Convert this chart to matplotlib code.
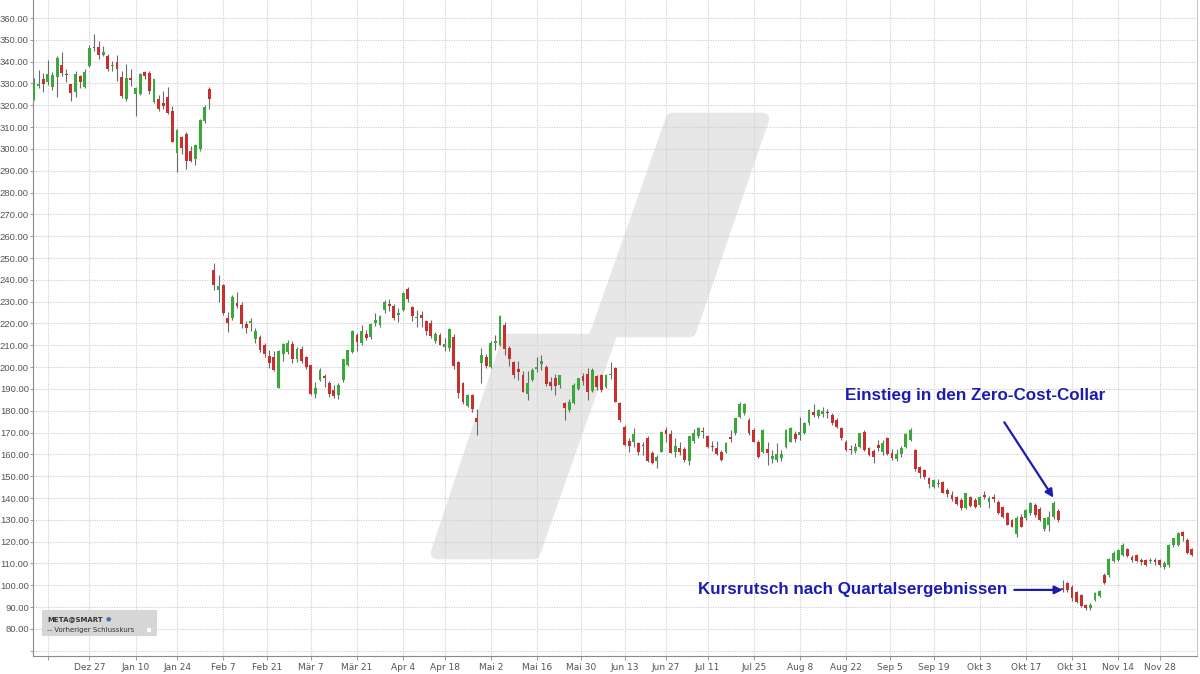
import numpy as np
import pandas as pd
import matplotlib.pyplot as plt
from matplotlib.patches import Polygon, Rectangle

# trading days shown (US market holidays left out)
holidays = ['2021-12-24', '2022-01-17', '2022-02-21', '2022-04-15', '2022-05-30',
            '2022-06-20', '2022-07-04', '2022-09-05', '2022-11-24']
days = pd.bdate_range('2021-12-08', '2022-12-07')
days = days[~days.isin(pd.to_datetime(holidays))]

# daily OHLC, one line per week
opens = [
    323.0, 329.0, 332.2, 330.5, 328.6, 333.0, 338.6, 334.5, 329.7, 326.2, 333.2, 328.6,
    338.1, 346.6, 346.5, 343.0, 342.7,
    338.0, 340.0, 332.8, 322.8, 332.3,
    325.1, 325.1, 335.4, 334.8, 321.3,
    323.0, 321.0, 324.0, 317.5,
    298.1, 305.3, 306.8, 299.1, 295.3,
    300.0, 313.0, 327.4, 244.5, 235.5,
    237.6, 222.5, 222.4, 229.5, 228.5,
    219.8, 220.0, 213.0, 214.0, 210.1,
    205.0, 204.5, 190.6, 206.0,
    207.0, 210.5, 203.5, 208.5, 204.8,
    200.8, 187.5, 194.0, 196.0, 192.6,
    189.5, 187.0, 194.0, 201.0, 207.0,
    214.5, 211.0, 215.0, 214.0, 220.0,
    219.5, 226.0, 229.0, 228.0, 224.0,
    226.0, 235.8, 227.5, 222.5, 224.0,
    221.0, 220.0, 212.0, 214.5,
    209.0, 208.6, 214.0, 202.5, 192.6,
    182.0, 187.2, 176.5, 202.0, 204.8,
    200.2, 211.0, 210.1, 219.5, 208.6,
    202.5, 199.0, 196.4, 187.5, 194.1,
    199.0, 201.5, 200.2, 193.0, 195.0,
    192.0, 183.5, 180.5, 183.5, 190.0,
    196.0, 197.0, 189.0, 196.0,
    196.4, 191.0, 196.5, 199.4, 183.4,
    172.5, 166.0, 165.5, 165.1, 164.5,
    167.4, 160.5, 157.0, 161.3,
    171.2, 169.5, 161.0, 163.0, 162.5,
    157.0, 166.0, 168.5, 170.7,
    168.5, 164.0, 163.0, 161.3, 161.3,
    168.0, 169.7, 177.3, 178.8, 175.8,
    171.2, 165.9, 161.3, 162.5, 158.0,
    157.5, 158.5, 163.5, 165.9, 169.5,
    169.0, 170.0, 174.2, 179.6, 177.5,
    178.5, 179.5, 178.1, 175.8, 171.9,
    165.9, 162.0, 161.5, 163.5, 170.4,
    162.8, 161.5, 164.5, 161.0, 167.5,
    160.5, 157.8, 160.0, 163.5,
    166.6, 162.0, 154.0, 152.9, 149.0,
    145.2, 146.5, 147.5, 143.7, 141.5,
    140.6, 139.0, 135.3, 140.6, 139.0,
    136.8, 141.5, 138.0, 140.5, 138.3,
    136.0, 133.0, 129.9, 123.5, 131.5,
    130.7, 133.0, 136.8, 134.8, 126.0,
    127.5, 131.5, 134.0, 98.6, 100.9,
    99.4, 97.1, 95.6, 91.0, 89.5,
    93.3, 95.0, 104.8, 104.8, 111.0,
    111.6, 113.9, 116.5, 113.0, 114.0,
    111.5, 111.5, 111.0, 111.5,
    111.6, 108.5, 109.3, 118.5, 118.5,
    124.5, 120.8, 116.5,
]
highs = [
    332.3, 336.0, 334.8, 340.7, 335.4, 342.4, 344.3, 336.6, 329.9, 335.8, 333.9, 336.6,
    347.5, 352.7, 349.6, 347.3, 343.5,
    340.4, 343.2, 335.8, 339.0, 336.6,
    328.5, 334.6, 335.9, 335.6, 332.2,
    324.5, 326.7, 328.2, 319.8,
    309.1, 306.0, 307.6, 301.4, 302.1,
    313.8, 319.9, 328.2, 247.6, 242.2,
    238.0, 225.4, 233.0, 234.6, 229.9,
    221.0, 222.4, 218.0, 214.5, 211.0,
    207.9, 207.5, 208.0, 211.0,
    212.4, 212.0, 209.0, 209.5, 205.0,
    201.0, 193.0, 199.5, 197.0, 193.5,
    191.8, 192.5, 203.8, 208.0, 217.0,
    215.5, 219.3, 217.0, 220.0, 224.7,
    224.0, 230.7, 231.0, 229.0, 227.0,
    234.5, 236.9, 228.0, 226.2, 225.5,
    221.5, 221.6, 216.3, 215.5,
    213.5, 218.0, 215.0, 203.0, 193.0,
    187.5, 187.5, 181.0, 208.6, 206.0,
    212.0, 214.7, 224.0, 220.5, 209.5,
    203.0, 203.0, 198.0, 198.0, 199.7,
    204.8, 205.6, 201.0, 195.6, 197.0,
    196.5, 184.0, 185.5, 192.6, 195.2,
    197.2, 199.4, 199.5, 196.5,
    197.0, 196.8, 202.5, 200.0, 184.0,
    173.5, 167.4, 171.9, 165.5, 165.5,
    168.5, 161.5, 159.7, 170.5,
    172.5, 171.2, 167.4, 165.5, 163.5,
    168.5, 171.5, 172.5, 172.7,
    169.0, 166.0, 166.0, 161.8, 165.5,
    171.2, 176.8, 183.8, 183.5, 176.5,
    172.0, 166.5, 171.5, 165.9, 162.0,
    165.1, 162.0, 171.5, 172.5, 170.5,
    177.3, 175.0, 181.0, 183.0, 181.0,
    181.5, 181.0, 179.0, 176.5, 172.5,
    166.5, 164.5, 165.0, 170.0, 171.0,
    163.5, 162.5, 166.5, 166.8, 168.0,
    162.5, 162.5, 164.0, 170.0,
    172.0, 162.5, 154.5, 153.5, 149.5,
    148.5, 148.5, 148.0, 144.5, 143.0,
    141.0, 140.0, 142.5, 141.0, 140.0,
    141.0, 143.0, 141.0, 142.0, 139.0,
    136.5, 133.5, 130.5, 131.8, 132.5,
    135.0, 138.0, 137.5, 136.0, 131.0,
    134.0, 138.5, 135.0, 102.4, 101.5,
    100.0, 97.5, 96.0, 91.5, 91.8,
    97.1, 98.0, 105.5, 112.5, 115.5,
    116.8, 119.5, 117.0, 114.0, 114.5,
    112.5, 112.0, 112.5, 112.5,
    112.0, 111.0, 118.8, 121.8, 124.5,
    125.0, 121.5, 117.0,
]
lows = [
    322.5, 328.0, 325.9, 329.3, 327.1, 323.6, 333.2, 330.5, 322.0, 323.6, 327.9, 328.1,
    337.4, 345.0, 341.2, 342.7, 335.8,
    335.8, 331.0, 323.3, 322.0, 328.7,
    315.2, 324.5, 332.0, 325.1, 321.0,
    317.3, 318.3, 315.9, 303.0,
    289.2, 297.6, 290.7, 293.8, 292.7,
    299.1, 311.8, 318.3, 235.3, 230.0,
    224.0, 216.3, 221.6, 227.0, 218.0,
    215.8, 216.5, 211.0, 206.8, 204.8,
    199.4, 198.0, 190.2, 203.0,
    206.0, 202.0, 202.5, 201.8, 199.2,
    187.0, 185.7, 193.5, 191.0, 186.5,
    185.7, 185.5, 193.0, 200.5, 206.5,
    207.5, 210.0, 212.4, 213.0, 219.0,
    218.5, 225.0, 225.5, 221.8, 220.5,
    225.5, 230.0, 221.0, 218.5, 218.5,
    214.5, 213.2, 210.9, 210.1,
    207.5, 207.5, 199.0, 185.7, 183.0,
    181.5, 179.6, 169.0, 192.6, 199.5,
    199.5, 207.8, 209.5, 205.5, 200.5,
    195.0, 194.0, 188.5, 185.0, 193.5,
    197.9, 198.7, 191.5, 189.5, 187.0,
    190.5, 175.8, 179.5, 183.0, 189.5,
    192.0, 184.9, 188.5, 189.5,
    188.5, 190.5, 194.5, 183.8, 175.0,
    164.0, 161.3, 163.5, 159.5, 159.5,
    156.5, 155.5, 153.6, 161.0,
    165.5, 160.5, 158.9, 159.5, 156.7,
    155.0, 165.0, 167.5, 167.4,
    163.0, 161.5, 159.5, 157.0, 160.5,
    165.9, 169.0, 176.5, 178.0, 169.0,
    165.5, 158.5, 160.5, 155.1, 155.9,
    156.7, 157.0, 163.0, 165.5, 165.9,
    166.6, 169.5, 173.5, 177.0, 176.5,
    177.0, 176.5, 173.5, 172.0, 166.8,
    161.5, 160.0, 160.5, 163.0, 161.5,
    159.2, 156.0, 161.5, 159.8, 159.5,
    157.5, 157.0, 159.0, 163.0,
    166.0, 152.5, 149.0, 148.5, 144.4,
    144.5, 145.0, 142.2, 140.6, 138.5,
    136.8, 134.5, 135.0, 136.0, 135.3,
    136.0, 139.5, 135.5, 138.0, 132.5,
    131.0, 127.5, 126.5, 122.3, 126.5,
    130.0, 132.0, 131.5, 129.5, 124.8,
    124.8, 130.5, 129.0, 97.1, 97.0,
    93.0, 92.0, 90.0, 88.5, 88.7,
    93.0, 94.5, 100.5, 104.0, 110.5,
    111.0, 113.5, 113.0, 110.5, 110.5,
    109.5, 109.0, 110.0, 109.5,
    108.5, 107.5, 108.5, 117.5, 118.0,
    120.5, 114.5, 113.5,
]
closes = [
    330.1, 329.8, 329.7, 334.4, 333.7, 341.7, 334.9, 333.8, 325.5, 334.2, 330.5, 335.2,
    346.2, 346.2, 342.9, 344.4, 336.4,
    338.5, 336.5, 324.2, 332.5, 331.8,
    328.1, 334.4, 333.3, 326.5, 331.9,
    318.2, 319.6, 316.6, 303.2,
    308.7, 300.2, 294.6, 294.6, 301.7,
    313.3, 319.0, 323.0, 237.8, 237.1,
    224.9, 220.2, 232.0, 228.1, 219.6,
    217.7, 221.0, 216.5, 207.7, 206.2,
    202.1, 198.5, 207.6, 210.5,
    211.0, 203.5, 208.1, 203.0, 200.1,
    187.5, 190.3, 198.5, 195.2, 187.6,
    186.6, 192.0, 203.6, 207.8, 216.5,
    211.5, 216.7, 213.5, 219.6, 221.8,
    223.6, 229.9, 227.9, 222.4, 224.9,
    233.9, 231.3, 223.3, 223.0, 222.3,
    216.5, 214.1, 215.0, 210.2,
    210.8, 217.3, 200.4, 188.1, 184.1,
    187.0, 181.0, 175.0, 205.7, 200.5,
    211.1, 212.0, 223.4, 208.3, 203.8,
    196.2, 197.7, 188.7, 192.5, 198.6,
    200.0, 202.6, 192.2, 191.3, 191.5,
    196.2, 181.3, 183.8, 191.6, 195.1,
    193.6, 188.6, 198.9, 190.8,
    189.5, 196.4, 196.6, 184.2, 175.6,
    164.3, 163.7, 169.4, 160.9, 163.7,
    157.1, 155.9, 158.7, 170.2,
    169.5, 160.7, 163.9, 161.3, 157.5,
    168.2, 169.8, 172.2, 170.3,
    163.5, 163.3, 160.0, 157.4, 165.1,
    167.2, 176.5, 183.1, 183.2, 169.7,
    165.9, 158.9, 171.2, 160.5, 159.1,
    160.0, 160.2, 171.2, 171.9, 167.1,
    170.3, 174.2, 180.4, 178.1, 180.2,
    180.0, 179.0, 174.2, 172.7, 167.4,
    162.0, 161.9, 163.2, 169.7, 162.0,
    159.7, 159.0, 162.9, 165.4, 160.3,
    158.5, 160.4, 163.1, 169.2,
    171.2, 153.1, 151.5, 149.5, 146.3,
    148.3, 147.0, 142.5, 142.0, 139.5,
    137.2, 135.5, 142.2, 136.4, 135.7,
    140.6, 140.4, 140.0, 139.5, 133.0,
    131.5, 127.7, 126.9, 131.0, 126.9,
    134.5, 137.6, 132.2, 130.0, 130.7,
    131.5, 137.6, 129.8, 97.9, 97.9,
    94.1, 92.5, 90.3, 89.5, 91.0,
    96.7, 97.5, 101.0, 112.0, 115.0,
    116.2, 118.5, 113.5, 111.5, 111.0,
    110.5, 109.3, 111.8, 110.5,
    109.3, 110.3, 118.5, 121.5, 123.9,
    122.5, 114.7, 113.8,
]

tick_dates = ['2021-12-13', '2021-12-27', '2022-01-10', '2022-01-24', '2022-02-07',
              '2022-02-21', '2022-03-07', '2022-03-21', '2022-04-04', '2022-04-18',
              '2022-05-02', '2022-05-16', '2022-05-30', '2022-06-13', '2022-06-27',
              '2022-07-11', '2022-07-25', '2022-08-08', '2022-08-22', '2022-09-05',
              '2022-09-19', '2022-10-03', '2022-10-17', '2022-10-31', '2022-11-14',
              '2022-11-28']
tick_labels = ['', 'Dez 27', 'Jan 10', 'Jan 24', 'Feb 7', 'Feb 21', 'Mär 7', 'Mär 21',
               'Apr 4', 'Apr 18', 'Mai 2', 'Mai 16', 'Mai 30', 'Jun 13', 'Jun 27',
               'Jul 11', 'Jul 25', 'Aug 8', 'Aug 22', 'Sep 5', 'Sep 19', 'Okt 3',
               'Okt 17', 'Okt 31', 'Nov 14', 'Nov 28']
y_ticks = list(range(70, 361, 10))

n = len(days)
assert len(opens) == len(highs) == len(lows) == len(closes) == n

o = np.array(opens)
h = np.array(highs)
l = np.array(lows)
c = np.array(closes)
x = np.arange(n)

fig = plt.figure(figsize=(12, 6.74), dpi=100)
ax = fig.add_axes([33 / 1200, 18 / 674, 1164 / 1200, 656 / 674])


def fig_xy(px, py):
    return (px / 1200, 1 - py / 674)


# grey watermark shape behind the chart
mark = [(437, 553), (508, 340), (594, 340), (672, 119), (763, 119), (690, 331),
        (612, 331), (534, 553)]
ax.add_patch(Polygon([fig_xy(*p) for p in mark], closed=True, transform=fig.transFigure,
                     facecolor='#e7e7e7', edgecolor='#e7e7e7', lw=9, joinstyle='round',
                     zorder=0.2))

# candles
up = c >= o
colors = np.where(up, '#3aa83a', '#c83030')
ax.vlines(x, l, h, color='#6a6a6a', lw=0.8, zorder=2)
body = np.maximum(np.abs(c - o), 0.4)
ax.bar(x, body, bottom=np.minimum(o, c), width=0.62, color=colors, linewidth=0, zorder=3)


def day_pos(d):
    d = pd.Timestamp(d)
    i = days.searchsorted(d)
    return i if days[i] == d else i - 0.5


ax.set_xticks([day_pos(d) for d in tick_dates])
ax.set_xticklabels(tick_labels, fontsize=6.5)
ax.set_yticks(y_ticks)
ax.set_yticklabels(['' if v == 70 else f'{v:.2f}' for v in y_ticks],
                   fontsize=6.8, family='Liberation Sans')
ax.set_xlim(-0.22, 252.1)
ax.set_ylim(67.6, 368.25)

ax.set_axisbelow(True)
ax.grid(True, color='#cdcdcd', ls=(0, (1, 1.2)), lw=0.8)
ax.tick_params(axis='x', length=3, width=0.6, color='#8a8a8a', labelcolor='#555555', pad=2)
ax.tick_params(axis='y', length=2, width=0.6, color='#8a8a8a', labelcolor='#555555', pad=1)
for s in ['left', 'bottom']:
    ax.spines[s].set_color('#8a8a8a')
    ax.spines[s].set_linewidth(0.8)
ax.spines['right'].set_color('#c8c8c8')
ax.spines['top'].set_visible(False)

# annotations
blue = '#1c1cb2'
ax.text(day_pos('2022-08-25') - 3.2, 186.8, 'Einstieg in den Zero-Cost-Collar', color=blue,
        fontsize=12.25, fontweight='bold', family='Liberation Sans', ha='left', va='center')
ax.annotate('', xy=(221.3, 139.1), xytext=(210.0, 175.8),
            arrowprops=dict(arrowstyle='-|>', color=blue, lw=1.6, mutation_scale=12))
ax.text(211.0, 97.9, 'Kursrutsch nach Quartalsergebnissen', color=blue, fontsize=12.25,
        fontweight='bold', family='Liberation Sans', ha='right', va='center')
ax.annotate('', xy=(223.6, 97.9), xytext=(211.9, 97.9),
            arrowprops=dict(arrowstyle='-|>', color=blue, lw=1.6, mutation_scale=12))

# small legend box bottom left
fig.patches.append(Rectangle(fig_xy(42, 636), 115 / 1200, 26 / 674, transform=fig.transFigure,
                             facecolor='#d6d6d6', edgecolor='none', zorder=5))
fig.text(*fig_xy(47, 619), 'META@SMART', fontsize=5, fontweight='bold', color='#333333',
         va='center', zorder=6)
fig.text(*fig_xy(106, 619), '\u25cf', fontsize=4.5, color='#4a6fb0', va='center', zorder=6)
fig.text(*fig_xy(47, 630), '-- Vorheriger Schlusskurs', fontsize=5, color='#333333',
         va='center', zorder=6)
fig.patches.append(Rectangle(fig_xy(147, 632), 4 / 1200, 4 / 674, transform=fig.transFigure,
                             facecolor='white', edgecolor='none', zorder=6))

fig.savefig('out.png', dpi=100)
